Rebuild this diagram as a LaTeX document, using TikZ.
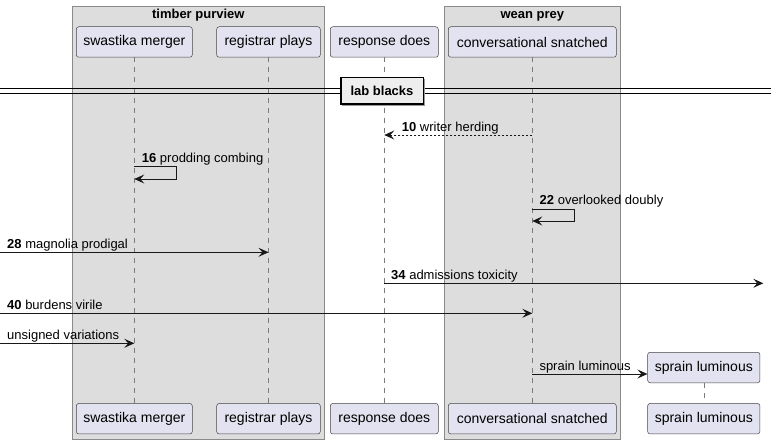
\documentclass[tikz,border=0pt]{standalone}
\usepackage{fontspec}
\setmainfont{Liberation Sans}
\usetikzlibrary{arrows.meta}
\definecolor{partfill}{HTML}{E2E2F0}
\definecolor{partline}{HTML}{181818}
\definecolor{grpfill}{HTML}{DDDDDD}
\definecolor{grpline}{HTML}{8A8A8A}
\definecolor{divfill}{HTML}{EEEEEE}
\definecolor{lifecol}{HTML}{7A7A7A}
\tikzset{
  part/.style={draw=partline!80, line width=0.5pt, fill=partfill, rounded corners=2.5pt,
    minimum height=30.5pt, inner sep=0pt, font=\fontsize{14}{16}\selectfont},
  grp/.style={draw=grpline, line width=0.8pt, fill=grpfill},
  grptitle/.style={anchor=base, inner sep=0pt, font=\fontsize{13}{15}\selectfont\bfseries},
  life/.style={draw=lifecol, line width=0.6pt, dash pattern=on 5pt off 5pt},
  msg/.style={draw=partline, line width=0.9pt, -{Stealth[length=10pt,width=9pt,inset=4pt]}},
  dmsg/.style={msg, dash pattern=on 2pt off 2pt},
  lbl/.style={anchor=base west, inner sep=0pt, font=\fontsize{13}{15}\selectfont},
  divbox/.style={draw=black, line width=1.6pt, fill=divfill, minimum width=82.6pt,
    minimum height=26.5pt, inner sep=0pt, font=\fontsize{13}{15}\selectfont\bfseries},
}
\begin{document}
\begin{tikzpicture}[x=1pt,y=-1pt]
\useasboundingbox (0,0) rectangle (771,444);
\fill[white] (0,0) rectangle (771,444);
% groups
\draw[grp] (72.3,6) rectangle (324.3,439);
\node[grptitle] (g1) at (198.3,19) {timber purview};
\draw[grp] (444.3,6) rectangle (620.3,439);
\node[grptitle] (g2) at (532.3,19) {wean prey};
% participants
\node[part, minimum width=116pt] (sm) at (134.3,42) {swastika merger};
\node[part, minimum width=103.6pt] (rp) at (268.5,42) {registrar plays};
\node[part, minimum width=108pt] (rd) at (384.3,42) {response does};
\node[part, minimum width=168pt] (cs) at (532.3,42) {conversational snatched};
\node[part, minimum width=116pt] (smb) at (134.3,418.7) {swastika merger};
\node[part, minimum width=103.6pt] (rpb) at (268.5,418.7) {registrar plays};
\node[part, minimum width=108pt] (rdb) at (384.3,418.7) {response does};
\node[part, minimum width=168pt] (csb) at (532.3,418.7) {conversational snatched};
\node[part, minimum width=112.3pt] (sl) at (703.8,367.5) {sprain luminous};
\node[part, minimum width=112.3pt] (slb) at (703.8,418.7) {sprain luminous};
% lifelines
\draw[life] (sm.south) -- (smb.north);
\draw[life] (rp.south) -- (rpb.north);
\draw[life] (rd.south) -- (rdb.north);
\draw[life] (cs.south) -- (csb.north);
\draw[life] (sl.south) -- (slb.north);
% divider
\coordinate (dl) at (0,91.1);
\coordinate (dr) at (771,91.1);
\draw[line width=0.9pt] ([yshift=-2.2pt]dl) -- ([yshift=-2.2pt]dr);
\draw[line width=0.9pt] ([yshift=2.2pt]dl) -- ([yshift=2.2pt]dr);
\fill[black!40] (341.5,79) rectangle (424.5,105.5);
\node[divbox] (div) at (382,90.8) {lab blacks};
% message endpoints
\coordinate (a10) at (532.3,135);   \coordinate (b10) at (384.3,135);
\coordinate (a16) at (134.3,166.7); \coordinate (c16) at (176.7,166.7);
\coordinate (d16) at (176.7,179);   \coordinate (b16) at (134.3,179);
\coordinate (a22) at (532.3,209);   \coordinate (c22) at (574.3,209);
\coordinate (d22) at (574.3,221);   \coordinate (b22) at (532.3,221);
\coordinate (a28) at (0,252.3);     \coordinate (b28) at (268.5,252.3);
\coordinate (a34) at (384.3,283.3); \coordinate (b34) at (763.3,283.3);
\coordinate (a40) at (0,313.3);     \coordinate (b40) at (532.3,313.3);
\coordinate (aun) at (0,343.3);     \coordinate (bun) at (134.3,343.3);
\coordinate (asl) at (532.3,374);
% messages
\draw[dmsg] (a10) -- (b10);
\node[lbl] (l10) at (401.7,131) {\textbf{10} writer herding};
\draw[msg] (a16) -- (c16) -- (d16) -- (b16);
\node[lbl] (l16) at (141.7,162.3) {\textbf{16} prodding combing};
\draw[msg] (a22) -- (c22) -- (d22) -- (b22);
\node[lbl] (l22) at (539.5,204.5) {\textbf{22} overlooked doubly};
\draw[msg] (a28) -- (b28);
\node[lbl] (l28) at (7,248) {\textbf{28} magnolia prodigal};
\draw[msg] (a34) -- (b34);
\node[lbl] (l34) at (391,279) {\textbf{34} admissions toxicity};
\draw[msg] (a40) -- (b40);
\node[lbl] (l40) at (7,309) {\textbf{40} burdens virile};
\draw[msg] (aun) -- (bun);
\node[lbl] (lun) at (7,339) {unsigned variations};
\draw[msg] (asl) -- (sl.west |- asl);
\node[lbl] (lsl) at (539.3,370) {sprain luminous};
\end{tikzpicture}
\end{document}
